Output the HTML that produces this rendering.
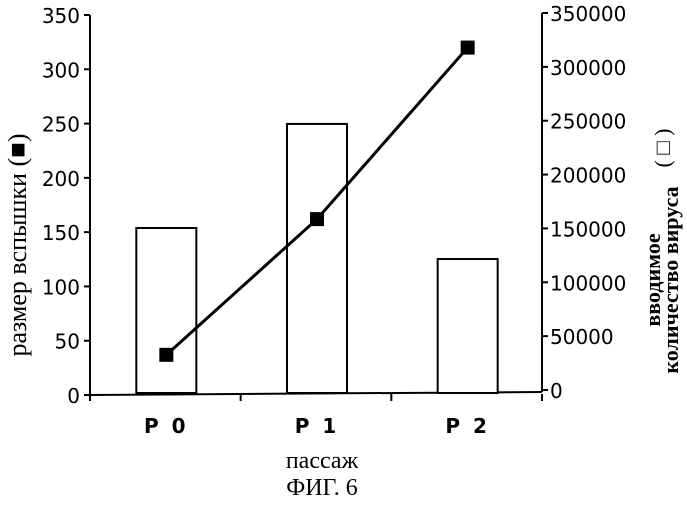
<!DOCTYPE html>
<html><head><meta charset="utf-8"><style>
body{margin:0;background:#fff}
svg text{fill:#000}
.tk{font-family:"DejaVu Sans","Liberation Sans",sans-serif;font-size:20px}
.ser{font-family:"Liberation Serif",serif}
</style></head><body>
<svg id="chart" width="687" height="500" viewBox="0 0 687 500">
<g id="plot"></g>
<text class="ser" x="322" y="468" font-size="24" text-anchor="middle">пассаж</text>
<text class="ser" x="322" y="495" font-size="24" text-anchor="middle">ФИГ. 6</text>
<text class="ser" transform="translate(26,245) rotate(-90)" font-size="26" text-anchor="middle">размер вспышки (■)</text>
<g transform="translate(662,260) rotate(-90)">
<text class="ser" x="-20" y="-2" font-size="22" font-weight="bold" text-anchor="middle">вводимое</text>
<text class="ser" x="-20" y="16" font-size="22" font-weight="bold" text-anchor="middle">количество вируса</text>
<text class="ser" x="112" y="8" font-size="22" text-anchor="middle">( □ )</text>
</g>
</svg>
<script>
const categories=["P 0","P 1","P 2"];
const virusAmount=[150400,247000,121600];
const outbreakSize=[37,162,320];
const leftTicks=[0,50,100,150,200,250,300,350];
const rightTicks=[0,50000,100000,150000,200000,250000,300000,350000];
const NS="http://www.w3.org/2000/svg";
const g=document.getElementById('plot');
const xL=90,xR=542;
const yL=v=>395-v*(380/350);
const yR=v=>390-v*(377/350000);
const band=(xR-xL)/categories.length;
const xc=i=>xL+band*(i+0.5)+1;
function mk(t,a){const e=document.createElementNS(NS,t);for(const k in a)e.setAttribute(k,a[k]);g.appendChild(e);return e;}
let e;
e=mk('line',{x1:xL,y1:15,x2:xL,y2:395,stroke:'#000','stroke-width':2});


e=mk('line',{x1:xR,y1:13,x2:xR,y2:392,stroke:'#000','stroke-width':2});


e=mk('line',{x1:xL,y1:395,x2:xR,y2:392,stroke:'#000','stroke-width':2});


for(let i=0;i<=categories.length;i++){
 const x=xL+band*i;
 e=mk('line',{x1:x,y1:394,x2:x,y2:401,stroke:'#000','stroke-width':2});
 
 
}
leftTicks.forEach(v=>{
 e=mk('line',{x1:xL-6,y1:yL(v),x2:xL,y2:yL(v),stroke:'#000','stroke-width':2});
 
 
 e=mk('text',{x:xL-10,y:yL(v)+8,'text-anchor':'end',class:'tk'});e.textContent=v;
 
 
});
rightTicks.forEach(v=>{
 e=mk('line',{x1:xR,y1:yR(v),x2:xR+6,y2:yR(v),stroke:'#000','stroke-width':2});
 
 
 e=mk('text',{x:xR+8,y:yR(v)+8,'text-anchor':'start',class:'tk'});e.textContent=v;
 
 
});
virusAmount.forEach((v,i)=>{
 const top=yR(v);
 e=mk('rect',{x:xc(i)-30,y:top,width:60,height:393-top,fill:'#fff',stroke:'#000','stroke-width':2});
 
 
});
const pts=outbreakSize.map((v,i)=>[xc(i),yL(v)]);
e=mk('polyline',{points:pts.map(p=>p.join(',')).join(' '),fill:'none',stroke:'#000','stroke-width':3});


pts.forEach((p,i)=>{
 e=mk('rect',{x:p[0]-7,y:p[1]-7,width:14,height:14,fill:'#000'});
 
 
});
categories.forEach((c,i)=>{
 e=mk('text',{x:xc(i),y:433,'text-anchor':'middle',class:'tk','font-weight':'bold','letter-spacing':'3'});e.textContent=c;
 
 
});
</script>
</body></html>
